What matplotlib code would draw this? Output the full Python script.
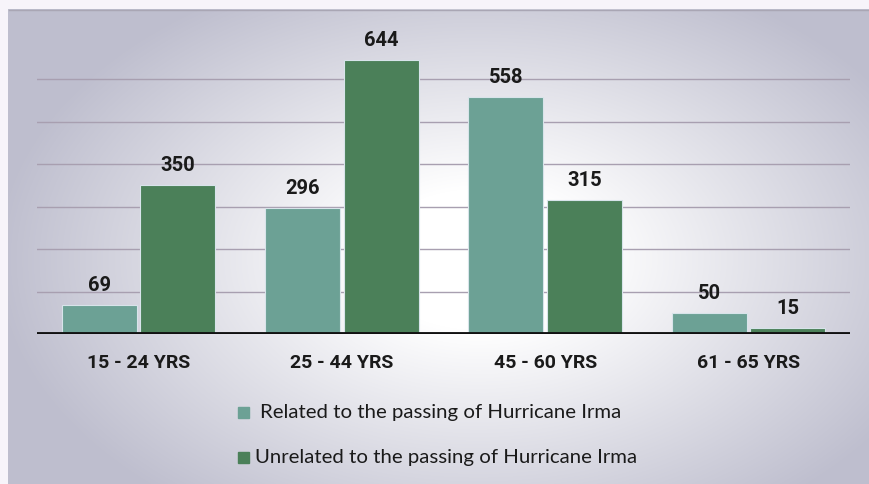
import numpy as np
import matplotlib.pyplot as plt
from matplotlib.patches import Rectangle

# data
age_groups = ['15 - 24 YRS', '25 - 44 YRS', '45 - 60 YRS', '61 - 65 YRS']
related = [69, 296, 558, 50]
unrelated = [350, 644, 315, 15]
series_names = ['Related to the passing of Hurricane Irma',
                'Unrelated to the passing of Hurricane Irma']
colors = ['#6ca195', '#4b8059']

plt.rcParams['font.family'] = ['Lato', 'DejaVu Sans']
bold_font = ['Roboto', 'DejaVu Sans']

fig = plt.figure(figsize=(8.69, 4.85), dpi=100)
fig.patch.set_facecolor('#f7f4fa')

# radial gradient background of the slide
bg = fig.add_axes([8 / 869, 0, 1 - 8 / 869, 1 - 10 / 485])
yy, xx = np.mgrid[0:475, 0:861]
d = np.sqrt(((xx - 470) / 500.0) ** 2 + ((yy - 250) / 320.0) ** 2)
d = np.clip((d - 0.22) / 0.75, 0, 1)
edge = np.array([190, 190, 206]) / 255.0
white = np.array([1.0, 1.0, 1.0])
img = white[None, None, :] * (1 - d[..., None]) + edge[None, None, :] * d[..., None]
bg.imshow(img, aspect='auto', interpolation='bilinear')
bg.set_axis_off()
bg.plot([0, 860], [0.5, 0.5], color='#a9a6b4', lw=1)

ax = fig.add_axes([37 / 869, 1 - 335 / 485, 813 / 869, 297.5 / 485])
ax.set_facecolor('none')
x = np.arange(len(age_groups))
w = 0.37
b1 = ax.bar(x - w / 2 - 0.008, related, w, color=colors[0], edgecolor='#d8e4ea', lw=0.8, zorder=3)
b2 = ax.bar(x + w / 2 + 0.008, unrelated, w, color=colors[1], edgecolor='#d8e4ea', lw=0.8, zorder=3)
for bars in (b1, b2):
    ax.bar_label(bars, padding=8, fontsize=14.5, fontweight='bold', color='#1a1a1a',
                 family=bold_font)

ax.set_xlim(-0.5, 3.5)
ax.set_ylim(0, 700)
for v in range(100, 700, 100):
    ax.axhline(v, color='#a89fb0', lw=1, zorder=1)
ax.axhline(0, color='#111111', lw=3.5, zorder=4)
for s in ax.spines.values():
    s.set_visible(False)
ax.set_yticks([])
ax.set_xticks(x)
ax.set_xticklabels(age_groups, fontsize=14, fontweight='bold', color='#1a1a1a',
                   family=bold_font)
ax.tick_params(axis='x', length=0, pad=14)

# legend
for i, (name, c) in enumerate(zip(series_names, colors)):
    yc = 1 - (413 + 45 * i) / 485
    fig.patches.append(Rectangle((238 / 869, yc - 5.5 / 485), 11 / 869, 11 / 485,
                                 transform=fig.transFigure, color=c, figure=fig))
    fig.text((260 - 5 * i) / 869, yc, name, fontsize=14.7, va='center', color='#1a1a1a')

fig.savefig('out.png', dpi=100, facecolor=fig.get_facecolor())
